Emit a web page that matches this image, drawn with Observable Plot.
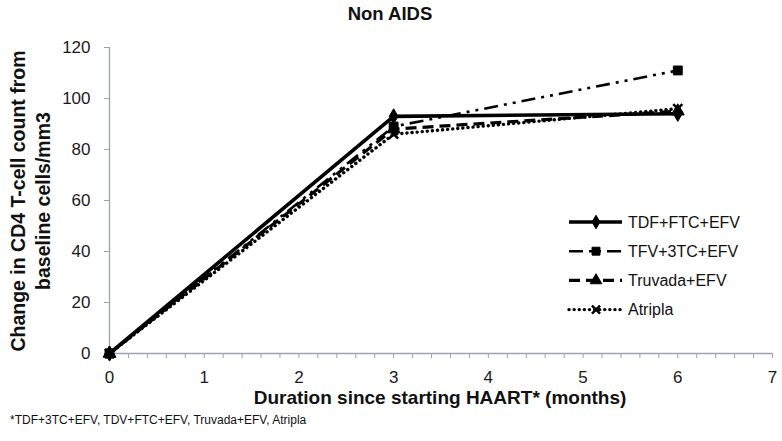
<!DOCTYPE html>
<html>
<head>
<meta charset="utf-8">
<script src="https://cdn.jsdelivr.net/npm/d3@7"></script>
<script src="https://cdn.jsdelivr.net/npm/@observablehq/plot@0.6"></script>
<style>
  html, body { margin: 0; padding: 0; background: #fff; }
  #chart { width: 782px; height: 441px; }
  svg { font-family: "Liberation Sans", Arial, sans-serif; }
</style>
</head>
<body>
<div id="chart"></div>
<script>
// ---- data ----
const months = [0, 3, 6];
const seriesNames = ["TDF+FTC+EFV", "TFV+3TC+EFV", "Truvada+EFV", "Atripla"];
const tdfFtcEfv = [0, 93, 94];
const tfv3tcEfv = [0, 89, 111];
const truvadaEfv = [0, 88, 95];
const atripla = [0, 86, 96];
const yTicks = [0, 20, 40, 60, 80, 100, 120];
const xTicks = [0, 1, 2, 3, 4, 5, 6, 7];
const xMinorTicks = d3.range(0, 35 + 1).map(i => i / 5);
const titleText = "Non AIDS";
const xTitle = "Duration since starting HAART* (months)";
const yTitle1 = "Change in CD4 T-cell count from";
const yTitle2 = "baseline cells/mm3";
const footnote = "*TDF+3TC+EFV, TDV+FTC+EFV, Truvada+EFV, Atripla";

const styles = [
  {name: seriesNames[0], values: tdfFtcEfv, dash: null, width: 3.6, symbol: "diamond", r: 4.6},
  {name: seriesNames[1], values: tfv3tcEfv, dash: "14,6,3,6,3,6", width: 2.6, symbol: "square", r: 5},
  {name: seriesNames[2], values: truvadaEfv, dash: "11,6", width: 3.2, symbol: "triangle", r: 4.8},
  {name: seriesNames[3], values: atripla, dash: "0.1,5", width: 3.4, symbol: "times", r: 4.2}
];

const axisColor = "#98a4b3";
const marks = [
  Plot.ruleY([0], {stroke: axisColor, strokeWidth: 1.3}),
  Plot.ruleX([0], {stroke: axisColor, strokeWidth: 1.3}),
  Plot.axisY({ticks: yTicks, tickSize: 5, stroke: axisColor, tickPadding: 14, fontSize: 17, color: "#1a1a1a", label: null, tickFormat: "d"}),
  Plot.axisX({ticks: xMinorTicks, tickSize: 5, stroke: axisColor, label: null, tickFormat: () => ""}),
  Plot.axisX({ticks: xTicks, tickSize: 0, tickPadding: 17, fontSize: 17, color: "#1a1a1a", label: null, tickFormat: "d"})
];
// draw in reverse so solid is on top
for (const s of styles.slice().reverse()) {
  const rows = months.map((m, i) => ({x: m, y: s.values[i]}));
  marks.push(Plot.line(rows, {x: "x", y: "y", stroke: "#000", strokeWidth: s.width,
    strokeDasharray: s.dash, strokeLinecap: s.dash && s.dash.startsWith("0.1") ? "round" : "butt"}));
}
for (const s of styles.slice().reverse()) {
  const rows = months.map((m, i) => ({x: m, y: s.values[i]}));
  marks.push(Plot.dot(rows, {x: "x", y: "y", symbol: s.symbol, r: s.r,
    fill: s.symbol === "times" ? "none" : "#000",
    stroke: "#000", strokeWidth: s.symbol === "times" ? 2.5 : 1}));
}

const plot = Plot.plot({
  width: 782, height: 441,
  marginLeft: 109, marginRight: 10, marginTop: 47, marginBottom: 88,
  x: {domain: [0, 7]},
  y: {domain: [0, 120]},
  style: {background: "#fff", fontFamily: "Liberation Sans, Arial, sans-serif"},
  marks
});
document.getElementById("chart").appendChild(plot);

const svg = d3.select(plot);
svg.append("text").attr("x", 390).attr("y", 20).attr("text-anchor", "middle")
  .attr("font-size", 18.5).attr("font-weight", "bold").attr("fill", "#111").text(titleText);
svg.append("text").attr("x", 440).attr("y", 404).attr("text-anchor", "middle")
  .attr("font-size", 19).attr("font-weight", "bold").attr("fill", "#111").text(xTitle);
svg.append("text").attr("transform", "translate(25,201) rotate(-90)").attr("text-anchor", "middle")
  .attr("font-size", 19.5).attr("font-weight", "bold").attr("fill", "#111").text(yTitle1);
svg.append("text").attr("transform", "translate(50,201) rotate(-90)").attr("text-anchor", "middle")
  .attr("font-size", 19.5).attr("font-weight", "bold").attr("fill", "#111").text(yTitle2);
svg.append("text").attr("x", 10).attr("y", 424).attr("text-anchor", "start")
  .attr("font-size", 12).attr("fill", "#111").text(footnote);

// legend
const lg = svg.append("g");
const symMap = {diamond: d3.symbolDiamond, square: d3.symbolSquare, triangle: d3.symbolTriangle, times: d3.symbolTimes};
styles.forEach((s, i) => {
  const y = 222 + i * 29.2;
  lg.append("line").attr("x1", 569).attr("x2", 622).attr("y1", y).attr("y2", y)
    .attr("stroke", "#000").attr("stroke-width", s.width)
    .attr("stroke-dasharray", s.dash).attr("stroke-linecap", s.dash && s.dash.startsWith("0.1") ? "round" : "butt");
  lg.append("path").attr("transform", `translate(596,${y})`)
    .attr("d", d3.symbol(symMap[s.symbol], Math.PI * s.r * s.r * 0.8)())
    .attr("fill", s.symbol === "times" ? "none" : "#000").attr("stroke", "#000")
    .attr("stroke-width", s.symbol === "times" ? 2.5 : 1);
  lg.append("text").attr("x", 628).attr("y", y).attr("dy", "0.35em").attr("text-anchor", "start")
    .attr("font-size", 16).attr("fill", "#111").text(s.name);
});
</script>
</body>
</html>
